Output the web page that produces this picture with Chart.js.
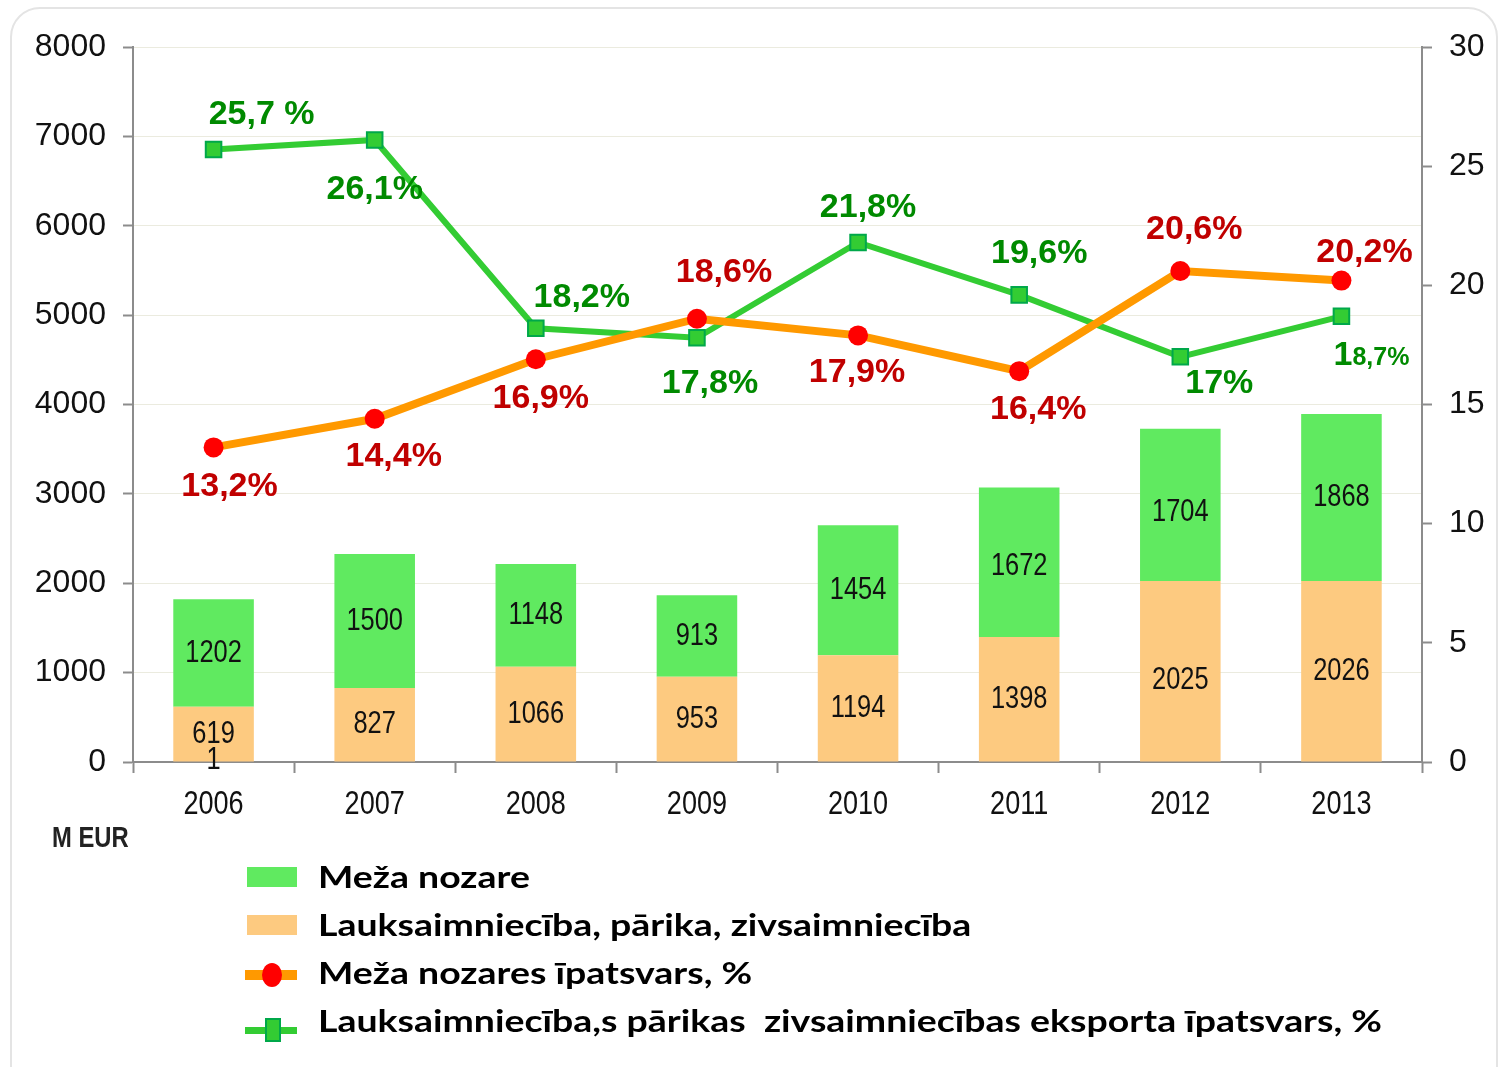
<!DOCTYPE html>
<html><head><meta charset="utf-8">
<script src="https://cdn.jsdelivr.net/npm/chart.js@4/dist/chart.umd.min.js"></script>
<style>
html,body{margin:0;padding:0;background:#fff;overflow:hidden}
#frame{position:absolute;left:10px;top:7px;width:1488px;height:1120px;border:2px solid #e4e4e4;border-radius:30px;box-sizing:border-box}
#wrap{position:absolute;left:0;top:0;width:1501px;height:1067px}
</style></head><body>
<div id="frame"></div>
<div id="wrap"><canvas id="c" width="1501" height="1067"></canvas></div>
<script>
// ---- data ----
const years = ['2006','2007','2008','2009','2010','2011','2012','2013'];
const lauksValues = [619, 827, 1066, 953, 1194, 1398, 2025, 2026];
const mezaValues = [1202, 1500, 1148, 913, 1454, 1672, 1704, 1868];
const mezaShare = [13.2, 14.4, 16.9, 18.6, 17.9, 16.4, 20.6, 20.2];
const lauksShare = [25.7, 26.1, 18.2, 17.8, 21.8, 19.6, 17, 18.7];
const mezaShareLabels = ['13,2%','14,4%','16,9%','18,6%','17,9%','16,4%','20,6%','20,2%'];
const lauksShareLabels = ['25,7 %','26,1%','18,2%','17,8%','21,8%','19,6%','17%','18,7%'];
const leftTicks = [0,1000,2000,3000,4000,5000,6000,7000,8000];
const rightTicks = [0,5,10,15,20,25,30];
const seriesNames = ['Meža nozare','Lauksaimniecība, pārika, zivsaimniecība','Meža nozares īpatsvars, %','Lauksaimniecība,s pārikas  zivsaimniecības eksporta īpatsvars, %'];
const unitLabel = 'M EUR';
const strayLabel = '1';

// ---- styles / positions ----
const C = {
  greenBar:'#60ea60', orangeBar:'#fdca80', orangeLine:'#ff9900', red:'#ff0000',
  greenLine:'#33cc33', greenEdge:'#00a84a', darkGreen:'#008a00', darkRed:'#c00000', axis:'#8c8c8c'
};
const ARIAL = '"Liberation Sans",Arial,sans-serif';
const NARROW_SCALE = 0.82;
const mezaLabelOff = [[16,39],[19,38],[5,39],[27,-46],[-1,37],[19,38],[14,-41],[23,-28]];
const lauksLabelOff = [[48,-35],[0,50],[46,-31],[13,46],[10,-35],[20,-41],[39,27],[30,39]];
const orangeBarDy = [0,0,0,0,0,0,9,0];
const greenBarDy = [0,0,0,0,0,4,8,0];
const X_AXIS_H = 60;

function narrowText(ctx, text, x, y, font, align) {
  ctx.save();
  ctx.font = font;
  ctx.textAlign = align || 'center';
  ctx.textBaseline = 'middle';
  ctx.translate(x, y);
  ctx.scale(NARROW_SCALE, 1);
  ctx.fillText(text, 0, 0);
  ctx.restore();
}

const labelPlugin = {
  id:'labels',
  afterDatasetsDraw(chart){
    const ctx = chart.ctx;
    ctx.save();
    ctx.fillStyle = '#111';
    const barFont = '31px ' + ARIAL;
    const m0 = chart.getDatasetMeta(0).data, m1 = chart.getDatasetMeta(1).data;
    m0.forEach((el,i)=>{
      const y = (el.y + el.base)/2 + orangeBarDy[i];
      narrowText(ctx, String(lauksValues[i]), el.x, y, barFont);
      if (i === 0) narrowText(ctx, strayLabel, el.x, y + 26, barFont);
    });
    m1.forEach((el,i)=>{
      narrowText(ctx, String(mezaValues[i]), el.x, (el.y + el.base)/2 + greenBarDy[i], barFont);
    });
    // line labels
    ctx.textAlign = 'center'; ctx.textBaseline = 'middle';
    const big = 'bold 34px ' + ARIAL, small = 'bold 25px ' + ARIAL;
    ctx.font = big;
    ctx.fillStyle = C.darkRed;
    chart.getDatasetMeta(2).data.forEach((el,i)=>{
      ctx.fillText(mezaShareLabels[i], el.x + mezaLabelOff[i][0], el.y + mezaLabelOff[i][1]);
    });
    ctx.fillStyle = C.darkGreen;
    chart.getDatasetMeta(3).data.forEach((el,i)=>{
      const t = lauksShareLabels[i];
      const x = el.x + lauksLabelOff[i][0], y = el.y + lauksLabelOff[i][1];
      if (i === 7) {
        ctx.font = big; const a = t[0]; const wa = ctx.measureText(a).width;
        ctx.font = small; const b = t.slice(1); const wb = ctx.measureText(b).width;
        const sx = x - (wa + wb)/2;
        ctx.textAlign = 'left';
        ctx.font = big; ctx.fillText(a, sx, y);
        ctx.font = small; ctx.fillText(b, sx + wa, y + 3);
        ctx.textAlign = 'center'; ctx.font = big;
      } else {
        ctx.fillText(t, x, y);
      }
    });
    ctx.restore();
  },
  afterDraw(chart){
    const ctx = chart.ctx;
    ctx.save();
    // x category labels (narrow)
    const xs = chart.scales.x;
    ctx.fillStyle = '#111';
    xs.ticks.forEach((t,i)=>{
      narrowText(ctx, String(xs.getLabelForValue(t.value)), xs.getPixelForTick(i), 805, '33px ' + ARIAL);
    });
    // unit label
    ctx.fillStyle = '#222';
    narrowText(ctx, unitLabel, 52, 839, 'bold 29px ' + ARIAL, 'left');
    // legend
    const rowY = [877, 925, 973, 1021];
    const symX = 247, symW = 50, textX = 318;
    const ds = chart.data.datasets;
    const order = [1, 0, 2, 3];
    ctx.textAlign = 'left'; ctx.textBaseline = 'middle';
    ctx.font = 'bold 31px Lato, "Noto Sans", sans-serif';
    const longW = ctx.measureText(seriesNames[3]).width;
    const sx = 1064 / longW;
    order.forEach((di, r)=>{
      const d = ds[di], y = rowY[r];
      if (d.type === 'bar') {
        ctx.fillStyle = d.backgroundColor;
        ctx.fillRect(symX, y - 10, symW, 20);
      } else if (di === 2) {
        ctx.fillStyle = C.orangeLine; ctx.fillRect(symX - 2, y + 2 - 5, symW + 2, 10);
        ctx.fillStyle = C.red; ctx.beginPath(); ctx.ellipse(symX + 25, y + 2, 10, 12, 0, 0, Math.PI*2); ctx.fill();
      } else {
        ctx.fillStyle = C.greenLine; ctx.fillRect(symX - 2, y + 9 - 3, symW + 2, 7);
        ctx.fillStyle = C.greenLine; ctx.fillRect(symX + 19, y - 2, 14, 22);
        ctx.strokeStyle = C.greenEdge; ctx.lineWidth = 2; ctx.strokeRect(symX + 19, y - 2, 14, 22);
      }
      ctx.save();
      ctx.translate(textX, y + 1);
      ctx.scale(sx, 1);
      ctx.fillStyle = '#000';
      ctx.fillText(d.label, 0, 0);
      ctx.restore();
    });
    ctx.restore();
  }
};

const tickStyle = {font:{family:ARIAL, size:32}, color:'#111', padding:17, callback:(v)=>String(v)};

new Chart(document.getElementById('c'), {
  data: {
    labels: years,
    datasets: [
      {type:'bar', label:seriesNames[1], data:lauksValues, backgroundColor:C.orangeBar, yAxisID:'y', order:10, stack:'s', barPercentage:0.5, categoryPercentage:1},
      {type:'bar', label:seriesNames[0], data:mezaValues, backgroundColor:C.greenBar, yAxisID:'y', order:10, stack:'s', barPercentage:0.5, categoryPercentage:1},
      {type:'line', label:seriesNames[2], data:mezaShare, yAxisID:'y1', order:0, borderColor:C.orangeLine, borderWidth:8,
        pointStyle:'circle', pointRadius:10, pointBackgroundColor:C.red, pointBorderColor:C.red, pointBorderWidth:0, tension:0, fill:false},
      {type:'line', label:seriesNames[3], data:lauksShare, yAxisID:'y1', order:1, borderColor:C.greenLine, borderWidth:6,
        pointStyle:'rect', pointRadius:11, pointBackgroundColor:C.greenLine, pointBorderColor:C.greenEdge, pointBorderWidth:2, tension:0, fill:false}
    ]
  },
  options: {
    responsive:false, animation:false,
    layout:{padding:{top:47, bottom:1067-762-X_AXIS_H, left:0, right:0}},
    plugins:{legend:{display:false}, tooltip:{enabled:false}},
    scales:{
      x:{stacked:true, offset:true,
        grid:{display:true, drawOnChartArea:false, offset:true, tickLength:11, tickColor:C.axis, tickWidth:2},
        border:{color:C.axis, width:2},
        ticks:{font:{family:ARIAL, size:30}, color:'rgba(0,0,0,0)', padding:10},
        afterFit(s){ s.height = X_AXIS_H; }},
      y:{stacked:true, position:'left', min:0, max:8000,
        afterBuildTicks(s){ s.ticks = leftTicks.map(v=>({value:v})); },
        ticks:tickStyle,
        grid:{color:'#ebebdf', lineWidth:1, tickColor:C.axis, tickLength:10, tickWidth:2},
        border:{color:C.axis, width:2},
        afterFit(s){ s.width = 133; }},
      y1:{position:'right', min:0, max:30,
        afterBuildTicks(s){ s.ticks = rightTicks.map(v=>({value:v})); },
        ticks:tickStyle,
        grid:{drawOnChartArea:false, tickColor:C.axis, tickLength:10, tickWidth:2},
        border:{color:C.axis, width:2},
        afterFit(s){ s.width = 1501 - 1422; }}
    }
  },
  plugins:[labelPlugin]
});
</script>
</body></html>
